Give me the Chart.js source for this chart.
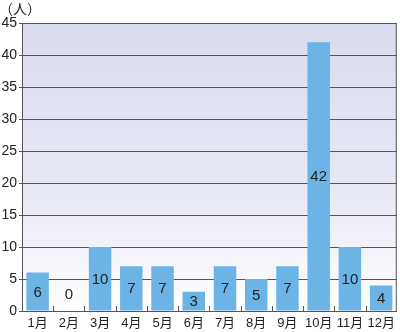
<!DOCTYPE html>
<html>
<head>
<meta charset="utf-8">
<script src="https://cdn.jsdelivr.net/npm/chart.js@4"></script>
<style>
  html, body { margin: 0; padding: 0; background: #fff; }
  #wrap { position: relative; width: 400px; height: 332px; }
  #unit { position: absolute; left: -1px; top: -2px; font: 14px "Noto Sans CJK JP", sans-serif; color: #222; }
</style>
</head>
<body>
<div id="wrap">
  <canvas id="chart" width="400" height="332"></canvas>
  <div id="unit">（人）</div>
</div>
<script>
const months = ['1月', '2月', '3月', '4月', '5月', '6月', '7月', '8月', '9月', '10月', '11月', '12月'];
const people = [6, 0, 10, 7, 7, 3, 7, 5, 7, 42, 10, 4];
const yTicks = [0, 5, 10, 15, 20, 25, 30, 35, 40, 45];

const fontFamily = "'Liberation Sans', 'Noto Sans CJK JP', sans-serif";
const lineColor = '#555';

// gradient fill behind the plot + frame + small upward ticks on the x axis
const plotBackground = {
    id: 'plotBackground',
    beforeDraw(chart) {
        const { ctx, chartArea: a } = chart;
        const g = ctx.createLinearGradient(0, a.top, 0, a.bottom);
        g.addColorStop(0, '#dadcef');
        g.addColorStop(0.6, '#e8e9f5');
        g.addColorStop(1, '#ffffff');
        ctx.save();
        ctx.fillStyle = g;
        ctx.fillRect(a.left, a.top, a.right - a.left, a.bottom - a.top);
        ctx.restore();
    },
    afterDraw(chart) {
        const { ctx, chartArea: a } = chart;
        const x = chart.scales.x;
        ctx.save();
        ctx.strokeStyle = lineColor;
        ctx.lineWidth = 1;
        ctx.beginPath();
        ctx.moveTo(a.right - 0.5, a.top);
        ctx.lineTo(a.right - 0.5, a.bottom);
        ctx.stroke();
        ctx.beginPath();
        for (let i = 1; i < months.length; i++) {
            const px = Math.round((x.getPixelForValue(i - 1) + x.getPixelForValue(i)) / 2) + 0.5;
            ctx.moveTo(px, a.bottom);
            ctx.lineTo(px, a.bottom - 5);
        }
        ctx.stroke();
        ctx.restore();
    }
};

// value labels inside the bars
const barLabels = {
    id: 'barLabels',
    afterDatasetsDraw(chart) {
        const { ctx } = chart;
        const meta = chart.getDatasetMeta(0);
        const y = chart.scales.y;
        ctx.save();
        ctx.font = '15px ' + fontFamily;
        ctx.fillStyle = '#222';
        ctx.textAlign = 'center';
        ctx.textBaseline = 'middle';
        meta.data.forEach((bar, i) => {
            const v = people[i];
            let py = (bar.y + bar.base) / 2;
            if (v === 0) py = y.getPixelForValue(0) - 17;
            ctx.fillText(String(v), bar.x, py + 1);
        });
        ctx.restore();
    }
};

const ctx = document.getElementById('chart').getContext('2d');

const chart = new Chart(ctx, {
    type: 'bar',
    data: {
        labels: months,
        datasets: [{
            data: people,
            backgroundColor: '#6cb4e6',
            borderWidth: 0,
            barPercentage: 0.72,
            categoryPercentage: 1
        }]
    },
    options: {
        responsive: false,
        animation: false,
        layout: { padding: { top: 23, right: 3, left: 0, bottom: 0 } },
        plugins: {
            legend: { display: false },
            tooltip: { enabled: false }
        },
        scales: {
            x: {
                grid: { display: false, drawTicks: false },
                border: { display: true, color: lineColor, width: 1 },
                ticks: {
                    color: '#222',
                    font: { family: fontFamily, size: 13 },
                    padding: 5,
                    maxRotation: 0,
                    autoSkip: false
                },
                afterFit(scale) { scale.height = 21; }
            },
            y: {
                min: 0,
                max: 45,
                afterBuildTicks(scale) { scale.ticks = yTicks.map(v => ({ value: v })); },
                grid: {
                    color: lineColor,
                    lineWidth: 1,
                    drawTicks: true,
                    tickLength: 3
                },
                border: { display: true, color: lineColor, width: 1 },
                ticks: {
                    color: '#222',
                    font: { family: fontFamily, size: 14 },
                    padding: 2
                },
                afterFit(scale) { scale.width = 22; }
            }
        }
    },
    plugins: [plotBackground, barLabels]
});
</script>
</body>
</html>
